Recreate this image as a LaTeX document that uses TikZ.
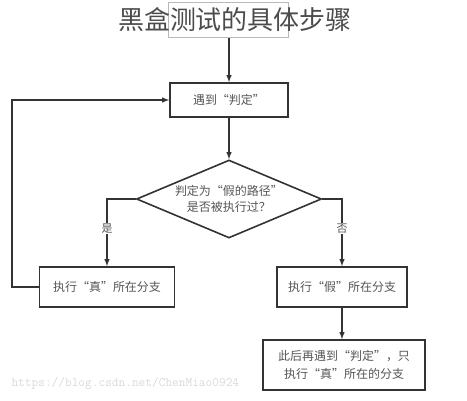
\documentclass[tikz,border=0pt]{standalone}
\usepackage{fontspec}
\setmainfont{Noto Sans CJK SC}
\usepackage{tikz}
\usetikzlibrary{calc}
\usetikzlibrary{arrows}
\usetikzlibrary{shapes.geometric}
\usetikzlibrary{positioning}

\definecolor{linegray}{HTML}{333333}
\definecolor{textgray}{HTML}{555555}
\tikzset{
  stepbox/.style={draw=linegray, line width=1.6pt, rectangle, inner sep=0pt,
    minimum height=40pt, text=textgray, font=\fontsize{12}{15}\selectfont},
  decision/.style={draw=linegray, line width=1.6pt, diamond, aspect=2.37,
    inner sep=0pt, minimum width=185pt, minimum height=78pt, text=textgray,
    align=center, font=\fontsize{12}{16}\selectfont},
  flow/.style={draw=linegray, line width=1.4pt, -latex},
  branch/.style={fill=white, text=textgray, inner sep=1pt, font=\fontsize{11}{13}\selectfont}
}

\begin{document}
\begin{tikzpicture}[x=1pt, y=-1pt]
      \useasboundingbox (0,0) rectangle (467,400);
      % watermark
      \node[text=gray!30, font=\ttfamily\fontsize{13}{15}\selectfont, anchor=west] (wm) at (8,383) {https://blog.csdn.net/ChenMiao0924};
      % title and the grey frame over it
      \node[draw=gray!55, line width=1pt, minimum width=120pt, minimum height=35pt] (frame) at (228,20) {};
      \node[text=black!70, font=\fontsize{26}{28}\selectfont] (title) at (235,20) {黑盒测试的具体步骤};
      % boxes
      \node[stepbox, minimum width=118pt, minimum height=34pt] (meet) at (229,100) {遇到“判定”};
      \node[decision] (cond) at (229,199) {判定为“假的路径”\\是否被执行过？};
      \node[stepbox, minimum width=135pt] (truebr) at (107,287) {执行“真”所在分支};
      \node[stepbox, minimum width=130pt] (falsebr) at (342,287) {执行“假”所在分支};
      \node[stepbox, minimum width=162pt, minimum height=50pt, align=center,
            font=\fontsize{12}{18}\selectfont] (after) at (344,365) {此后再遇到“判定”，只\\执行“真”所在的分支};
      \coordinate (back) at (12,100);
      % connectors
      \draw[flow] (frame.south -| meet.north) -- (meet.north);
      \draw[flow] (meet.south) -- (cond.north);
      \draw[flow] (cond.west) -| (truebr.north) node[branch, pos=0.72] (yes) {是};
      \draw[flow] (cond.east) -| (falsebr.north) node[branch, pos=0.72] (no) {否};
      \draw[flow] (truebr.west) -| (back) -- (meet.west);
      \draw[flow] (falsebr.south) -- (falsebr.south |- after.north);
  \end{tikzpicture}
\end{document}
